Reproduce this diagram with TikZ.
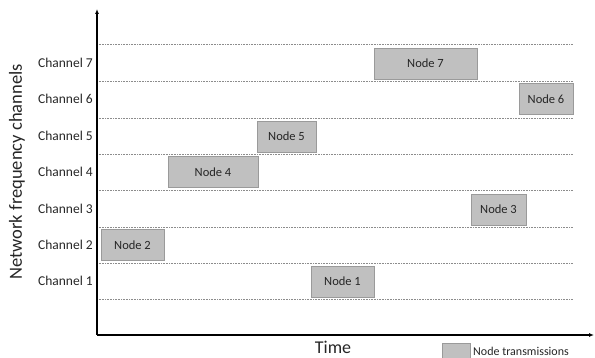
\documentclass[tikz,border=0pt]{standalone}
\usepackage{fontspec}
\setmainfont{Carlito}
\usetikzlibrary{arrows.meta}
\definecolor{boxfill}{HTML}{C0C0C0}
\definecolor{boxline}{HTML}{9A9A9A}
\definecolor{txt}{HTML}{262626}
\definecolor{gridc}{HTML}{8C8C8C}
\begin{document}
\begin{tikzpicture}[x=1pt,y=-1pt,
  txbox/.style={draw=boxline,fill=boxfill,line width=0.8pt,text=txt,font=\fontsize{12.5}{14}\selectfont,inner sep=0pt,minimum height=31pt},
  chlabel/.style={anchor=east,text=txt,font=\fontsize{13.5}{15}\selectfont,inner sep=0pt},
  gridline/.style={gridc,densely dotted,line width=0.6pt},
  axis/.style={line width=1.4pt,-{Latex[length=5pt,width=4pt]}}]
\useasboundingbox (0,0) rectangle (595,358);
% grid lines
\foreach \y/\n in {44/g8,81/g7,118/g6,154/g5,190/g4,227/g3,263/g2,299/g1}{
  \coordinate (\n a) at (97,\y);
  \coordinate (\n b) at (573,\y);
  \draw[gridline] (\n a) -- (\n b);
}
% axes
\coordinate (origin) at (97,335);
\coordinate (ytop) at (97,9);
\coordinate (xend) at (594,335);
\draw[axis] (origin) -- (ytop);
\draw[axis] (origin) -- (xend);
% channel labels
\node[chlabel] (c7) at (93,63) {Channel 7};
\node[chlabel] (c6) at (93,99) {Channel 6};
\node[chlabel] (c5) at (93,136) {Channel 5};
\node[chlabel] (c4) at (93,172) {Channel 4};
\node[chlabel] (c3) at (93,209) {Channel 3};
\node[chlabel] (c2) at (93,245) {Channel 2};
\node[chlabel] (c1) at (93,281) {Channel 1};
% node transmissions
\node[txbox,minimum width=103pt] (n7) at (425.5,63.5) {Node 7};
\node[txbox,minimum width=54pt] (n6) at (546,99) {Node 6};
\node[txbox,minimum width=59pt] (n5) at (286.5,136.5) {Node 5};
\node[txbox,minimum width=90pt] (n4) at (213,172) {Node 4};
\node[txbox,minimum width=55pt] (n3) at (498.5,209.5) {Node 3};
\node[txbox,minimum width=63pt] (n2) at (132.5,245) {Node 2};
\node[txbox,minimum width=63pt] (n1) at (342.5,281.5) {Node 1};
% axis titles
\node[text=txt,font=\fontsize{18.5}{20}\selectfont,rotate=90,inner sep=0pt] (ylab) at (17,172) {Network frequency channels};
\node[text=txt,font=\fontsize{18}{20}\selectfont,inner sep=0pt,anchor=base] (xlab) at (333,353) {Time};
% legend
\node[draw=boxline,fill=boxfill,line width=0.8pt,minimum width=28pt,minimum height=20pt,inner sep=0pt,anchor=north west] (leg) at (442,343) {};
\node[text=txt,font=\fontsize{12}{13}\selectfont,inner sep=0pt,anchor=west] (legt) at (473,351.5) {Node transmissions};
\end{tikzpicture}
\end{document}
